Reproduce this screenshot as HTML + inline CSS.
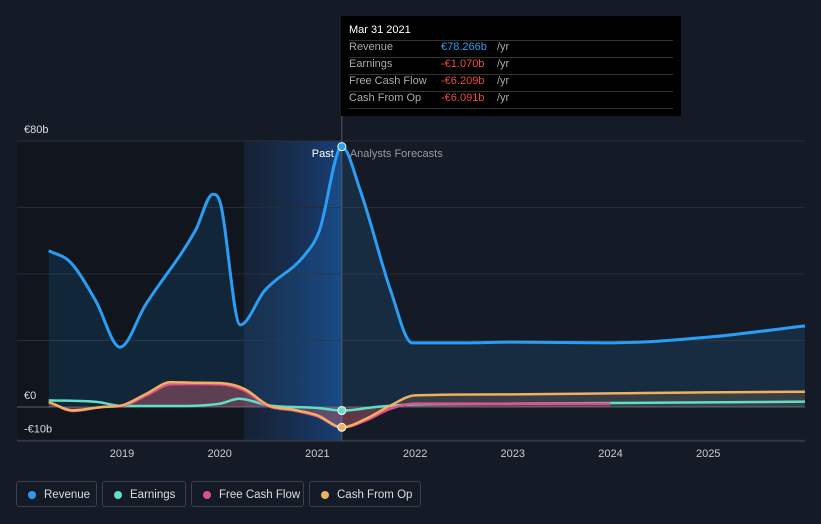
<!DOCTYPE html>
<html><head><meta charset="utf-8">
<style>
body{margin:0;background:#151b26;font-family:"Liberation Sans",sans-serif;}
#wrap{position:relative;width:821px;height:524px;overflow:hidden;background:#151b26;}
svg{position:absolute;left:0;top:0;}
.tt{position:absolute;left:341px;top:16px;width:340px;height:100px;background:#000;color:#fff;font-size:11px;}
.tt .row{position:absolute;left:8px;width:324px;height:16px;border-bottom:1px solid #333;}
.tt .k{position:absolute;left:0;color:#aaa;}
.tt .v{position:absolute;left:92px;}
.legend{position:absolute;top:481px;height:26px;border:1px solid #3a414d;border-radius:3px;color:#ddd;font-size:11.5px;line-height:26px;box-sizing:border-box;padding-left:27px;white-space:nowrap;}
.legend i{position:absolute;left:11px;top:9px;width:8px;height:8px;border-radius:50%;}
</style></head><body>
<div id="wrap">
<svg id="chart" width="821" height="524"></svg>
<div class="tt">
 <div class="row" style="top:8px"><span class="k" style="color:#fff">Mar 31 2021</span></div>
 <div class="row" style="top:25px"><span class="k">Revenue</span><span class="v" style="color:#2a9df4">€78.266b</span><span style="position:absolute;left:148px;color:#aaa">/yr</span></div>
 <div class="row" style="top:42px"><span class="k">Earnings</span><span class="v" style="color:#f04848">-€1.070b</span><span style="position:absolute;left:148px;color:#aaa">/yr</span></div>
 <div class="row" style="top:59px"><span class="k">Free Cash Flow</span><span class="v" style="color:#f04848">-€6.209b</span><span style="position:absolute;left:148px;color:#aaa">/yr</span></div>
 <div class="row" style="top:76px"><span class="k">Cash From Op</span><span class="v" style="color:#f04848">-€6.091b</span><span style="position:absolute;left:148px;color:#aaa">/yr</span></div>
</div>
<div class="legend" style="left:16px;width:81px"><i style="background:#2a9df4"></i>Revenue</div>
<div class="legend" style="left:102px;width:84px"><i style="background:#5ee0c8"></i>Earnings</div>
<div class="legend" style="left:191px;width:113px"><i style="background:#e0508c"></i>Free Cash Flow</div>
<div class="legend" style="left:309px;width:112px"><i style="background:#f0b060"></i>Cash From Op</div>
</div>
<script>
const revYears=[2018.25,2018.47,2018.73,2018.98,2019.24,2019.75,2019.93,2020.0,2020.21,2020.46,2020.87,2021.02,2021.25,2021.44,2021.75,2021.97,2022.5,2023.0,2024.0,2025.0,2025.99];
const revVals=[47,43.6,32,18,30.7,53,64,62,24.7,35,45.7,53,78.3,65,35,19.3,19.3,19.5,19.3,21,24.4];
const cfoYears=[2018.25,2018.5,2018.8,2019.0,2019.25,2019.5,2019.75,2020.0,2020.25,2020.5,2020.75,2021.0,2021.25,2021.5,2021.75,2022.0,2023.0,2024.0,2025.0,2025.99];
const cfoVals=[1.5,-1,0,0.5,4,7.5,7.3,7.2,5.5,0.5,-0.8,-2.5,-6.1,-3.5,0.5,3.5,3.8,4.1,4.4,4.6];
const fcfYears=[2018.25,2018.5,2018.8,2019.0,2019.25,2019.5,2019.75,2020.0,2020.25,2020.5,2020.75,2021.0,2021.25,2021.5,2021.75,2022.0,2023.0,2024.0];
const fcfVals=[1.5,-1.2,0,0.3,3.5,6.8,6.9,6.8,5,0.2,-1,-2.8,-6.2,-4,-0.5,1,1,1];
const earnYears=[2018.25,2018.75,2019.0,2019.5,2020.0,2020.2,2020.5,2021.0,2021.25,2021.6,2022.0,2023.0,2024.0,2025.0,2025.99];
const earnVals=[2,1.5,0.3,0.3,1,2.5,0.5,-0.3,-1.07,0,0.8,1,1.2,1.4,1.6];
const yTicks=[80,0,-10];const yLabels=["€80b","€0","-€10b"];
const xTicks=[2019,2020,2021,2022,2023,2024,2025];
const NS="http://www.w3.org/2000/svg",svg=document.getElementById('chart');
const X=y=>122+(y-2019)*97.7, Y=v=>407-v*3.325;
function mk(t,a){const e=document.createElementNS(NS,t);for(const k in a)e.setAttribute(k,a[k]);svg.appendChild(e);return e;}
function path(xs,vs){const p=xs.map((x,i)=>[X(x),Y(vs[i])]);const n=p.length;
const d=[],m=[];for(let i=0;i<n-1;i++)d.push((p[i+1][1]-p[i][1])/(p[i+1][0]-p[i][0]));
for(let i=0;i<n;i++){if(i==0)m.push(d[0]);else if(i==n-1)m.push(d[n-2]);else m.push(d[i-1]*d[i]<=0?0:(d[i-1]+d[i])/2);}
for(let i=0;i<n-1;i++){if(d[i]==0){m[i]=0;m[i+1]=0;continue;}const a=m[i]/d[i],b=m[i+1]/d[i],s=a*a+b*b;if(s>9){const t=3/Math.sqrt(s);m[i]=t*a*d[i];m[i+1]=t*b*d[i];}}
let s="M"+p[0][0]+","+p[0][1];
for(let i=0;i<n-1;i++){const h=(p[i+1][0]-p[i][0])/3;
s+=" C"+(p[i][0]+h)+","+(p[i][1]+m[i]*h)+" "+(p[i+1][0]-h)+","+(p[i+1][1]-m[i+1]*h)+" "+p[i+1][0]+","+p[i+1][1];}return s;}
const defs=mk('defs',{});defs.innerHTML='<linearGradient id="hl" x1="0" x2="1"><stop offset="0" stop-color="#1a3a6a" stop-opacity="0.2"/><stop offset="1" stop-color="#1a4f9a" stop-opacity="0.7"/></linearGradient>';
let e=mk('rect',{x:17,y:141,width:X(2020.25)-17,height:300,fill:'#10151e'});

e=mk('rect',{x:X(2020.25),y:141,width:X(2021.25)-X(2020.25),height:300,fill:'url(#hl)'});

[60,40,20].forEach(t=>{e=mk('line',{x1:17,x2:805,y1:Y(t),y2:Y(t),stroke:'#252c37'});});
yTicks.forEach((t,i)=>{e=mk('line',{x1:17,x2:805,y1:Y(t),y2:Y(t),stroke:i==1?'#5a606a':'#2a313c','stroke-width':1});

e=mk('text',{x:24,y:Y(t)-8,fill:'#ddd','font-size':11});e.textContent=yLabels[i];
});
xTicks.forEach(t=>{e=mk('text',{x:X(t),y:457,fill:'#ccc','font-size':11,'text-anchor':'middle'});e.textContent=t;
});
e=mk('line',{x1:17,x2:805,y1:441,y2:441,stroke:'#3a414d'});
e=mk('line',{x1:X(2021.25),x2:X(2021.25),y1:16,y2:441,stroke:'#555'});
const rd=path(revYears,revVals);
e=mk('path',{d:rd+` L${X(revYears.at(-1))},${Y(0)} L${X(revYears[0])},${Y(0)} Z`,fill:'#2a9df4','fill-opacity':0.13});

const cd=path(cfoYears,cfoVals);
e=mk('path',{d:cd+` L${X(cfoYears.at(-1))},${Y(0)} L${X(cfoYears[0])},${Y(0)} Z`,fill:'#f0b060','fill-opacity':0.15});

const fd=path(fcfYears,fcfVals);
e=mk('path',{d:fd+` L${X(fcfYears.at(-1))},${Y(0)} L${X(fcfYears[0])},${Y(0)} Z`,fill:'#e0508c','fill-opacity':0.25});

e=mk('path',{d:path(earnYears,earnVals),fill:'none',stroke:'#5ee0c8','stroke-width':2.5});

e=mk('path',{d:fd,fill:'none',stroke:'#e0508c','stroke-width':2.5});

e=mk('path',{d:cd,fill:'none',stroke:'#f0b060','stroke-width':2.5});

e=mk('path',{d:rd,fill:'none',stroke:'#2a9df4','stroke-width':3});

[[78.3,'#2a9df4'],[-1.07,'#5ee0c8'],[-6.1,'#f0b060']].forEach(([v,c])=>{e=mk('circle',{cx:X(2021.25),cy:Y(v),r:4,fill:c,stroke:'#fff','stroke-width':1});
});
e=mk('text',{x:X(2021.25)-8,y:157,fill:'#fff','font-size':11,'text-anchor':'end'});e.textContent='Past';

e=mk('text',{x:X(2021.25)+8,y:157,fill:'#999','font-size':11});e.textContent='Analysts Forecasts';

</script>
</body></html>
